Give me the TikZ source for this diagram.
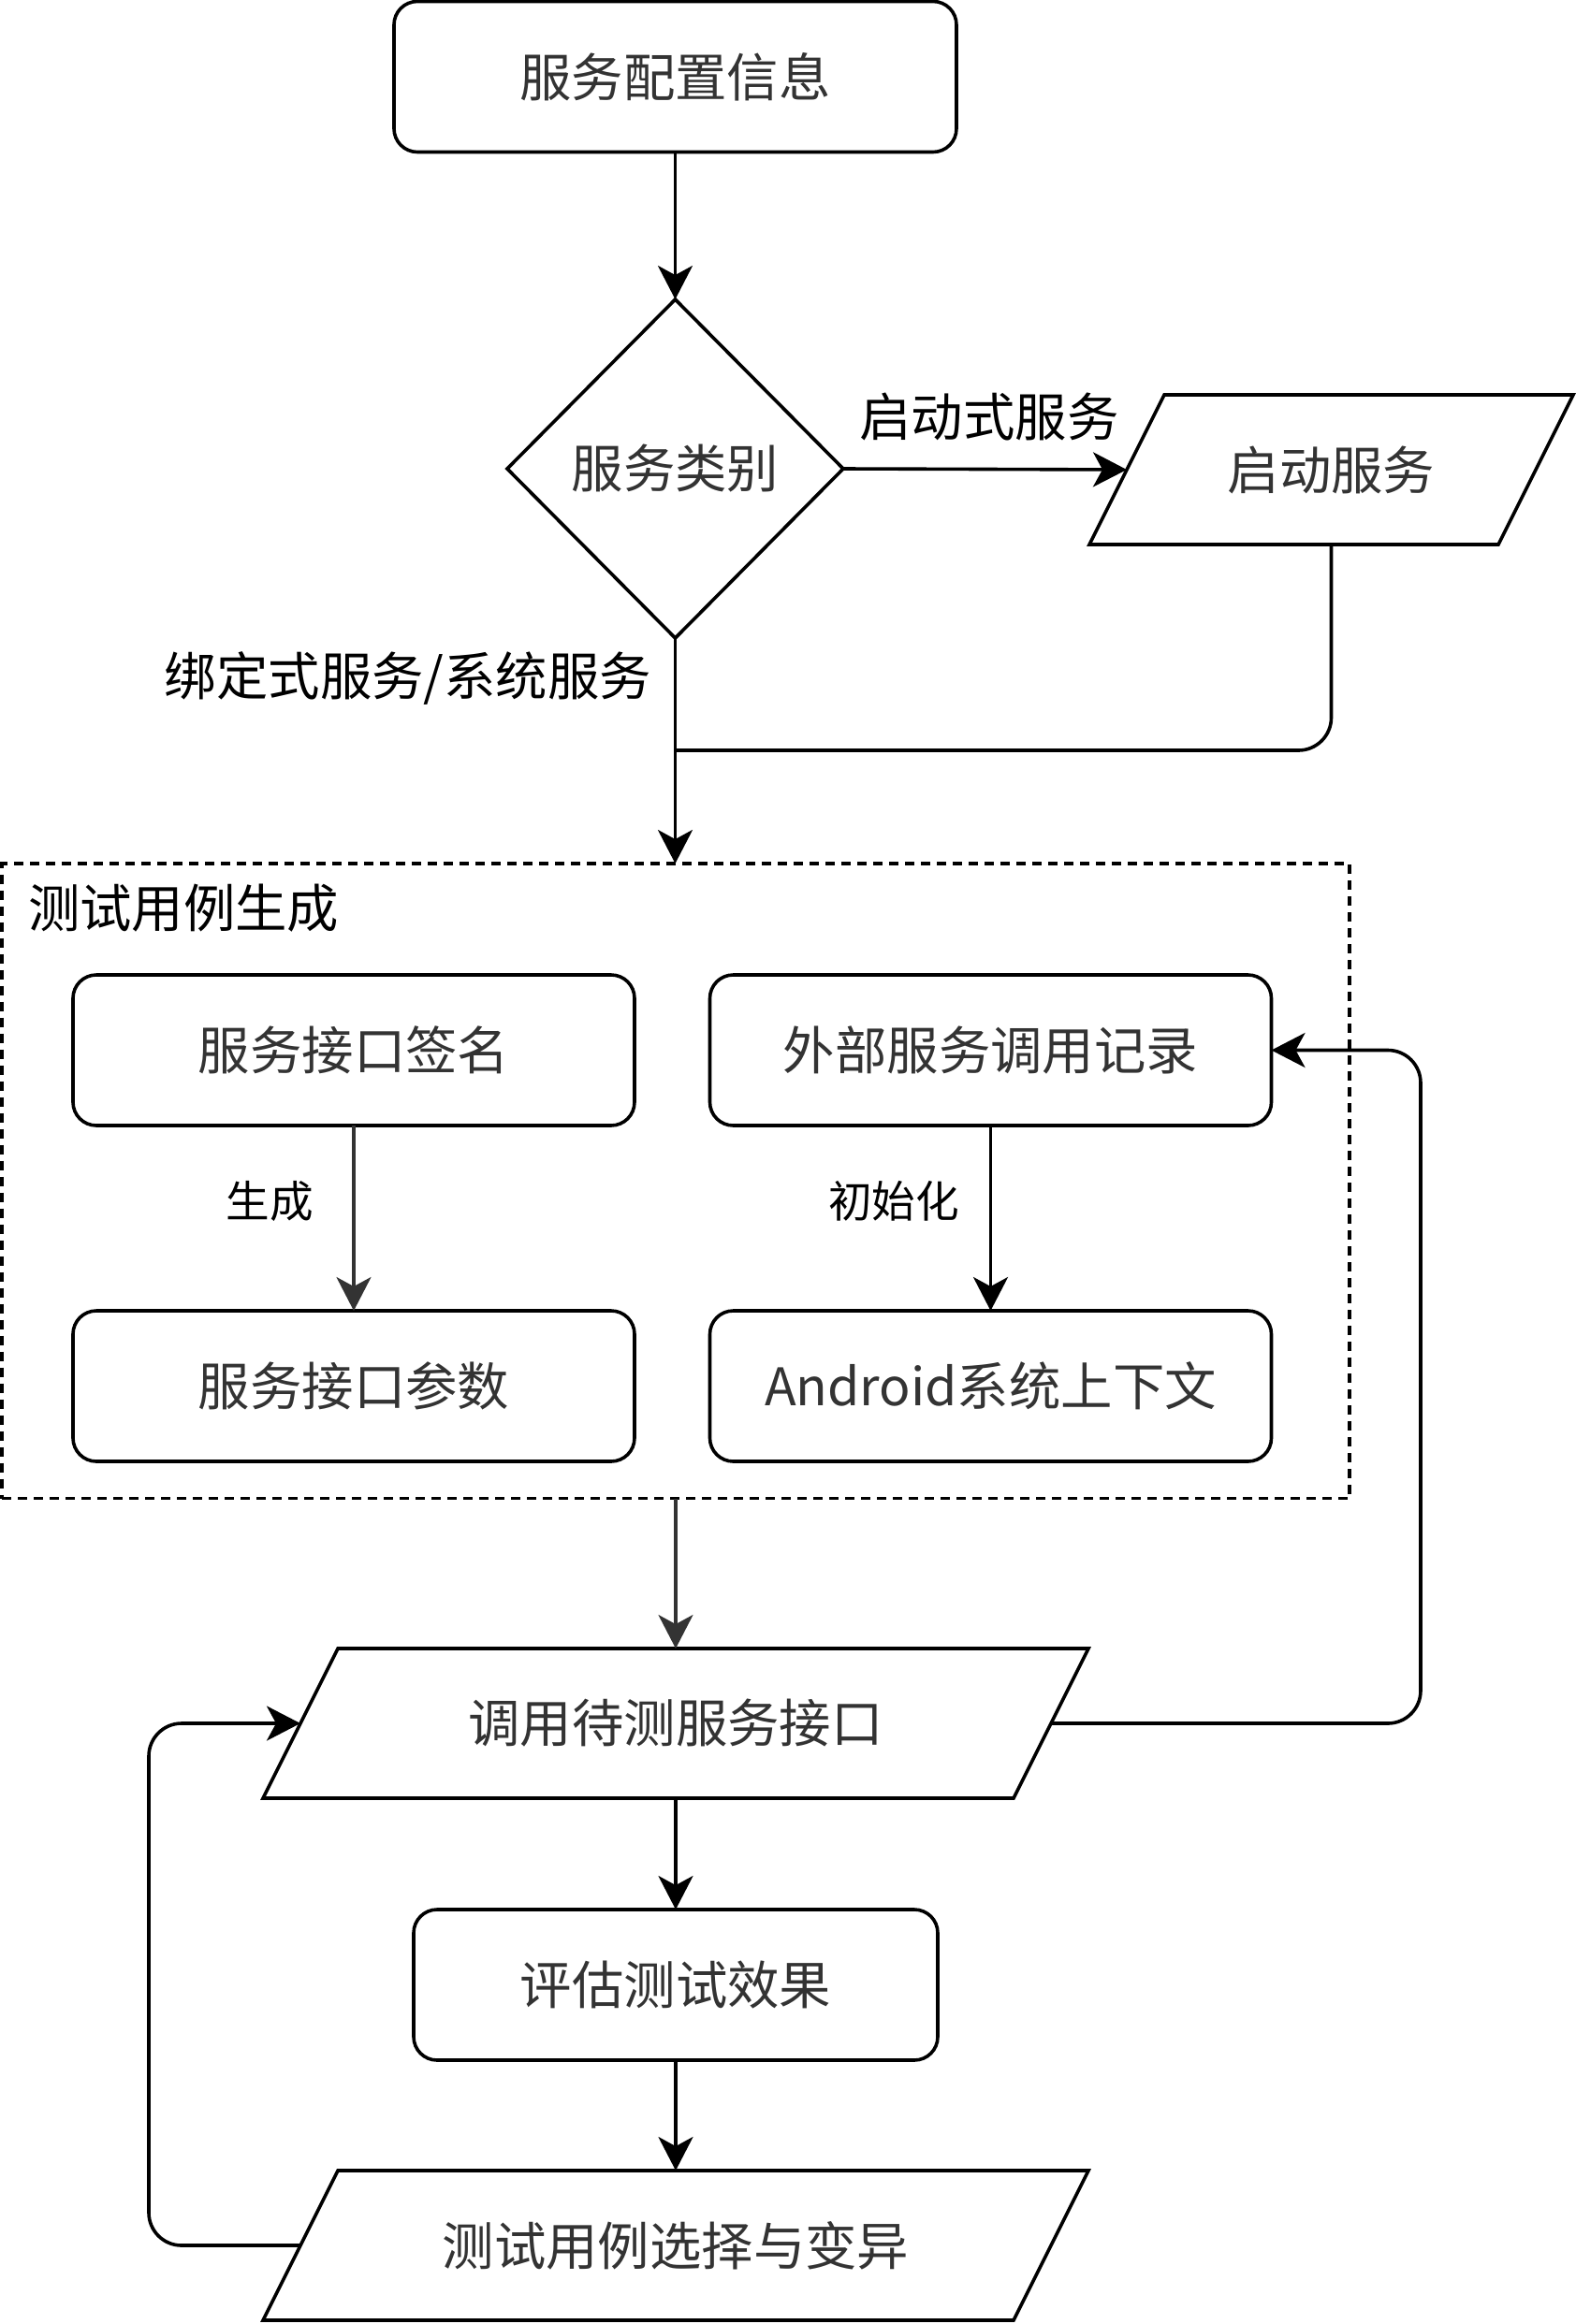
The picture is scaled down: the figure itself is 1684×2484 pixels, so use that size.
\documentclass[tikz,border=0pt]{standalone}
\usepackage{fontspec}
\setmainfont{Noto Sans CJK SC}
\usetikzlibrary{shapes.geometric,arrows.meta,calc}

\definecolor{boxtext}{HTML}{333333}
\definecolor{softline}{HTML}{333333}

% outline of a slanted data box around the text node #1 (half slant = 40 units)
\newcommand\slantframe[1]{%
  \draw ($(#1.north west)+(40,0)$) -- ($(#1.north east)+(40,0)$)
     -- ($(#1.south east)+(-40,0)$) -- ($(#1.south west)+(-40,0)$) -- cycle;}

\begin{document}
\begin{tikzpicture}[x=0.5pt,y=-0.5pt,
  line width=1.8pt,
  every node/.style={inner sep=0pt, outer sep=0pt},
  bigfont/.style={font=\fontsize{27.7pt}{33pt}\selectfont},
  proc/.style={draw, rounded corners=12.5pt, minimum height=80.5pt, text=boxtext, bigfont},
  io/.style={rectangle, minimum height=80pt, text=boxtext, bigfont},
  decide/.style={draw, diamond, aspect=1, minimum width=179.5pt, minimum height=181pt,
                 text=boxtext, bigfont},
  group/.style={draw, dash pattern=on 5pt off 3.5pt},
  lbl/.style={bigfont, text=black},
  smalllbl/.style={font=\fontsize{23.3pt}{28pt}\selectfont, text=black},
  flow/.style={-{Stealth[length=18pt,width=18.5pt,inset=5pt]}},
  softflow/.style={flow, draw=softline, line width=1.6pt},
  loop/.style={flow, rounded corners=17.5pt},
]
\useasboundingbox (0,0) rectangle (1684,2484);

% main nodes
\node[proc, minimum width=300.5pt] (cfg) at (721.5,82) {服务配置信息};
\node[decide] (type) at (721.5,501) {服务类别};
\node[io, minimum width=218.5pt] (start) at (1422.5,502) {启动服务};
\slantframe{start}

% test case generation group
\node[group, minimum width=720pt, minimum height=339.25pt] (gen) at (722,1262.25) {};
\node[lbl, anchor=west] (lgen) at (30,971) {测试用例生成};
\node[proc, minimum width=300pt] (sig) at (378,1122.5) {服务接口签名};
\node[proc, minimum width=300pt] (ext) at (1058.5,1122.5) {外部服务调用记录};
\node[proc, minimum width=300pt] (param) at (378,1481.5) {服务接口参数};
\node[proc, minimum width=300pt] (ctx) at (1058.5,1481.5) {Android系统上下文};

% test loop
\node[io, minimum width=401pt] (call) at (722,1842) {调用待测服务接口};
\slantframe{call}
\node[proc, minimum width=280pt] (eval) at (722,2121.5) {评估测试效果};
\node[io, minimum width=401pt] (sel) at (722,2400) {测试用例选择与变异};
\slantframe{sel}

% helper points
\coordinate (merge) at (721.5,802);
\coordinate (rloop) at (1518,1500);
\coordinate (lloop) at (159,2100);

% connectors
\draw[flow] (cfg.south) -- (type.north);
\draw[flow] (type.east) -- (start.west);
\node[lbl] (lstart) at (1057,445) {启动式服务};
\draw[flow] (type.south) -- (type.south |- gen.north);
\node[lbl] (lbind) at (436,725) {绑定式服务/系统服务};
\draw[rounded corners=17.5pt] (start.south) |- (merge);

\draw[softflow] (sig.south) -- (param.north);
\node[smalllbl] (lmake) at (288,1284) {生成};
\draw[flow] (ext.south) -- (ctx.north);
\node[smalllbl] (linit) at (955,1284) {初始化};

\draw[softflow] (gen.south) -- (gen.south |- call.north);
\draw[flow] (call.south) -- (eval.north);
\draw[flow] (eval.south) -- (eval.south |- sel.north);

\draw[loop] (call.east) -- (call.east -| rloop) -- (ext.east -| rloop) -- (ext.east);
\draw[loop] (sel.west) -- (sel.west -| lloop) -- (call.west -| lloop) -- (call.west);
\end{tikzpicture}
\end{document}
